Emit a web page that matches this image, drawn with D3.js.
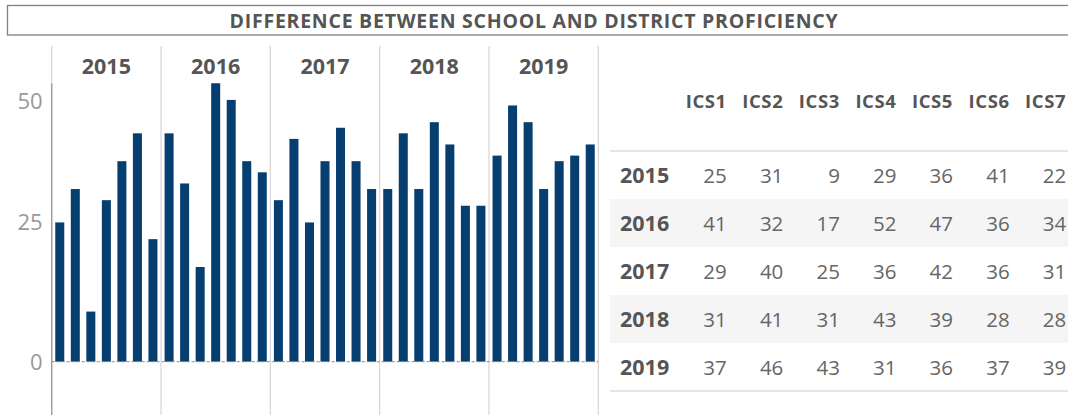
<!DOCTYPE html>
<html>
<head>
<meta charset="utf-8">
<script src="https://cdn.jsdelivr.net/npm/d3@7"></script>
<style>
  html, body { margin: 0; padding: 0; background: #fff; }
  svg { display: block; font-family: "Open Sans", sans-serif; }
</style>
</head>
<body>
<div id="chart"></div>
<script>
var WIDTH = 1068,
    HEIGHT = 415,
    BAR_COLOR = "#063e6f",
    TITLE = "DIFFERENCE BETWEEN SCHOOL AND DISTRICT PROFICIENCY";

// data
var years = ["2015", "2016", "2017", "2018", "2019"];
var schools = ["ICS1", "ICS2", "ICS3", "ICS4", "ICS5", "ICS6", "ICS7"];
var diff2015 = [25, 31, 9, 29, 36, 41, 22];
var diff2016 = [41, 32, 17, 52, 47, 36, 34];
var diff2017 = [29, 40, 25, 36, 42, 36, 31];
var diff2018 = [31, 41, 31, 43, 39, 28, 28];
var diff2019 = [37, 46, 43, 31, 36, 37, 39];
var yTicks = [0, 25, 50];

var series = [diff2015, diff2016, diff2017, diff2018, diff2019];
var rows = years.map(function(y, i) {
  return { year: y, values: schools.map(function(s, j) { return { year: y, school: s, value: series[i][j] }; }) };
});

var svg = d3.select("#chart").append("svg")
  .attr("width", WIDTH)
  .attr("height", HEIGHT);

// title box
svg.append("rect")
  .attr("x", 7.5).attr("y", 5.5)
  .attr("width", WIDTH + 10).attr("height", 29.5)
  .attr("fill", "none")
  .attr("stroke", "#7f7f7f")
  .attr("stroke-width", 1.3);

svg.append("text")
  .attr("x", 534).attr("y", 28.3)
  .attr("text-anchor", "middle")
  .attr("font-size", 19.5)
  .attr("letter-spacing", "0.75px")
  .attr("font-weight", 700)
  .attr("fill", "#555")
  .text(TITLE);

// ---- bar chart ----
var x0 = d3.scaleBand().domain(years).range([51.7, 598.3]).padding(0),
    x1 = d3.scaleBand().domain(schools).range([0, x0.bandwidth()]).paddingInner(0.42).paddingOuter(0.23),
    y = d3.scaleLinear().domain([-10, 50]).range([417.4, 83.2]);

// group separators
svg.append("g").attr("class", "separators")
  .selectAll("line")
  .data(years.concat(["end"]))
  .enter().append("line")
  .attr("x1", function(d, i) { return i < years.length ? x0(d) : x0.range()[1]; })
  .attr("x2", function(d, i) { return i < years.length ? x0(d) : x0.range()[1]; })
  .attr("y1", 46).attr("y2", HEIGHT)
  .attr("stroke", "#d9d9d9")
  .attr("stroke-width", 1.3);

// year headers
svg.append("g").attr("class", "year-labels")
  .selectAll("text")
  .data(years)
  .enter().append("text")
  .attr("x", function(d) { return x0(d) + x0.bandwidth() / 2; })
  .attr("y", 74)
  .attr("text-anchor", "middle")
  .attr("font-size", 21.5)
  .attr("font-weight", 700)
  .attr("fill", "#555")
  .text(function(d) { return d; });

svg.append("defs").append("clipPath").attr("id", "plot-clip")
  .append("rect")
  .attr("x", x0.range()[0]).attr("y", y(50))
  .attr("width", x0.range()[1] - x0.range()[0])
  .attr("height", y(-10) - y(50));

var groups = svg.append("g").attr("clip-path", "url(#plot-clip)")
  .selectAll("g.year")
  .data(rows)
  .enter().append("g")
  .attr("class", "year")
  .attr("transform", function(d) { return "translate(" + x0(d.year) + ",0)"; });

groups.selectAll("rect")
  .data(function(d) { return d.values; })
  .enter().append("rect")
  .attr("x", function(d) { return x1(d.school); })
  .attr("y", function(d) { return y(Math.max(0, d.value)); })
  .attr("width", x1.bandwidth())
  .attr("height", function(d) { return Math.abs(y(d.value) - y(0)); })
  .attr("fill", BAR_COLOR);

// zero line
svg.append("line")
  .attr("x1", x0.range()[0]).attr("x2", x0.range()[1])
  .attr("y1", y(0)).attr("y2", y(0))
  .attr("stroke", "#8a8a8a")
  .attr("stroke-width", 1)
  .attr("stroke-dasharray", "3,2");

// y axis
svg.append("line")
  .attr("x1", x0.range()[0]).attr("x2", x0.range()[0])
  .attr("y1", y(50)).attr("y2", HEIGHT)
  .attr("stroke", "#9a9a9a")
  .attr("stroke-width", 1.3);

svg.append("g").attr("class", "y-labels")
  .selectAll("text")
  .data(yTicks)
  .enter().append("text")
  .attr("x", 42.7)
  .attr("y", function(d) { return y(d); })
  .attr("dy", function(d) { return d === 50 ? "26px" : "8px"; }) // top label kept inside the plot
  .attr("text-anchor", "end")
  .attr("font-size", 22)
  .attr("fill", "#999")
  .text(function(d) { return d; });

// ---- table ----
var tx = d3.scaleBand().domain(schools).range([670.2, 1066.2]),
    ty = d3.scaleBand().domain(years).range([151, 391]);

var table = svg.append("g").attr("class", "table");

table.selectAll("rect.stripe")
  .data(years.filter(function(d, i) { return i % 2 === 1; }))
  .enter().append("rect")
  .attr("class", "stripe")
  .attr("x", 610).attr("y", function(d) { return ty(d); })
  .attr("width", WIDTH - 610).attr("height", ty.bandwidth())
  .attr("fill", "#f5f5f5");

table.selectAll("line.rule")
  .data(ty.range())
  .enter().append("line")
  .attr("class", "rule")
  .attr("x1", 610).attr("x2", WIDTH)
  .attr("y1", function(d) { return d; }).attr("y2", function(d) { return d; })
  .attr("stroke", "#dcdcdc")
  .attr("stroke-width", 1.3);

table.selectAll("text.col-head")
  .data(schools)
  .enter().append("text")
  .attr("class", "col-head")
  .attr("x", function(d) { return tx(d) + tx.bandwidth(); })
  .attr("y", 107.7)
  .attr("text-anchor", "end")
  .attr("font-size", 18.5)
  .attr("letter-spacing", "0.6px")
  .attr("font-weight", 700)
  .attr("fill", "#555")
  .text(function(d) { return d; });

table.selectAll("text.row-head")
  .data(years)
  .enter().append("text")
  .attr("class", "row-head")
  .attr("x", 620)
  .attr("y", function(d) { return ty(d) + ty.bandwidth() / 2 + 7.8; })
  .attr("font-size", 21.5)
  .attr("font-weight", 700)
  .attr("fill", "#555")
  .text(function(d) { return d; });

var tRows = table.selectAll("g.row")
  .data(rows)
  .enter().append("g")
  .attr("class", "row")
  .attr("transform", function(d) { return "translate(0," + (ty(d.year) + ty.bandwidth() / 2 + 7.5) + ")"; });

tRows.selectAll("text")
  .data(function(d) { return d.values; })
  .enter().append("text")
  .attr("x", function(d) { return tx(d.school) + tx.bandwidth(); })
  .attr("text-anchor", "end")
  .attr("font-size", 20.5)
  .attr("fill", "#666")
  .text(function(d) { return d.value; });
</script>
</body>
</html>
